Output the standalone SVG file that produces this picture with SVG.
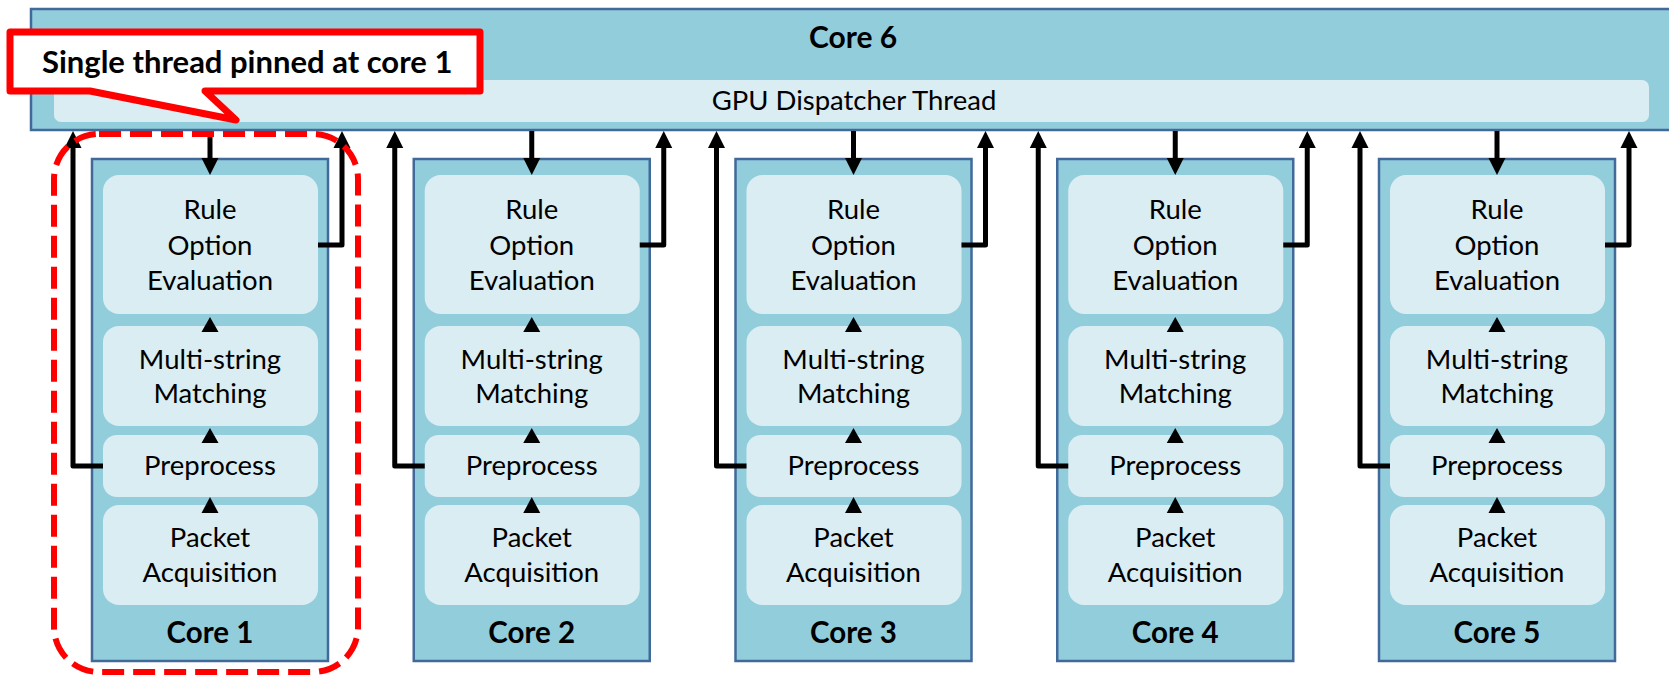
<svg xmlns="http://www.w3.org/2000/svg" width="1669" height="676" viewBox="0 0 1669 676">
<style>
.outer{fill:#92CDDC;stroke:#41699A;stroke-width:2.5}
.inner{fill:#DAEDF3}
.t{font-family:Lato,"Open Sans",sans-serif;font-size:27.5px;fill:#000;text-anchor:middle}
.b{font-family:Lato,"Open Sans",sans-serif;font-size:29.5px;font-weight:bold;fill:#000;text-anchor:middle}
.c{fill:none;stroke:#000;stroke-width:5;stroke-linejoin:round}
.tri{fill:#000}
</style>
<defs>
<marker id="ah" markerUnits="userSpaceOnUse" markerWidth="18" markerHeight="18" refX="0" refY="8.5" orient="auto" overflow="visible">
<path d="M0,0 L17,8.5 L0,17 Z" fill="#000"/>
</marker>
<g id="coreTpl">
<rect class="outer" x="92" y="159" width="236" height="502"/>
<rect class="inner" x="103" y="175" width="215" height="139" rx="16"/>
<rect class="inner" x="103" y="326" width="215" height="100" rx="16"/>
<rect class="inner" x="103" y="435" width="215" height="62" rx="14"/>
<rect class="inner" x="103" y="505" width="215" height="100" rx="16"/>
<text class="t" x="210" y="219">Rule</text>
<text class="t" x="210" y="255">Option</text>
<text class="t" x="210" y="290">Evaluation</text>
<text class="t" x="210" y="369">Multi-string</text>
<text class="t" x="210" y="403">Matching</text>
<text class="t" x="210" y="475">Preprocess</text>
<text class="t" x="210" y="547">Packet</text>
<text class="t" x="210" y="582">Acquisition</text>
</g>
<g id="connTpl">
<path class="c" d="M210,131 V158" marker-end="url(#ah)"/>
<path class="c" d="M103,466 H73 V148" marker-end="url(#ah)"/>
<path class="c" d="M318,245 H342 V148" marker-end="url(#ah)"/>
<polygon class="tri" points="210,317 201.5,332 218.5,332"/>
<polygon class="tri" points="210,428 201.5,443 218.5,443"/>
<polygon class="tri" points="210,497 201.5,513 218.5,513"/>
</g>
</defs>

<g id="core6">
<rect class="outer" x="31" y="9" width="1645" height="121"/>
<rect class="inner" x="54" y="80" width="1595" height="42" rx="7"/>
<text class="b" x="853" y="48" style="font-size:30px">Core 6</text>
<text class="t" x="854" y="110">GPU Dispatcher Thread</text>
</g>

<g id="core1">
<use href="#coreTpl"/>
<text class="b" x="210" y="643">Core 1</text>
</g>
<g id="core2" transform="translate(321.75,0)">
<use href="#coreTpl"/>
<text class="b" x="210" y="643">Core 2</text>
</g>
<g id="core3" transform="translate(643.5,0)">
<use href="#coreTpl"/>
<text class="b" x="210" y="643">Core 3</text>
</g>
<g id="core4" transform="translate(965.25,0)">
<use href="#coreTpl"/>
<text class="b" x="210" y="643">Core 4</text>
</g>
<g id="core5" transform="translate(1287,0)">
<use href="#coreTpl"/>
<text class="b" x="210" y="643">Core 5</text>
</g>

<g id="connectors">
<use href="#connTpl"/>
<use href="#connTpl" transform="translate(321.75,0)"/>
<use href="#connTpl" transform="translate(643.5,0)"/>
<use href="#connTpl" transform="translate(965.25,0)"/>
<use href="#connTpl" transform="translate(1287,0)"/>
</g>

<g id="highlight">
<rect x="54" y="134" width="304" height="538" rx="45" fill="none" stroke="#FF0000" stroke-width="6" stroke-dasharray="22 9"/>
</g>

<g id="callout">
<path d="M10,32 H480 V91 H205 L236,120 L90,91 H10 Z" fill="#FFFFFF" stroke="#FF0000" stroke-width="7" stroke-linejoin="round"/>
<text x="42" y="73" style="font-family:Lato,'Open Sans',sans-serif;font-size:31px;font-weight:bold;fill:#000">Single thread pinned at core 1</text>
</g>
</svg>
